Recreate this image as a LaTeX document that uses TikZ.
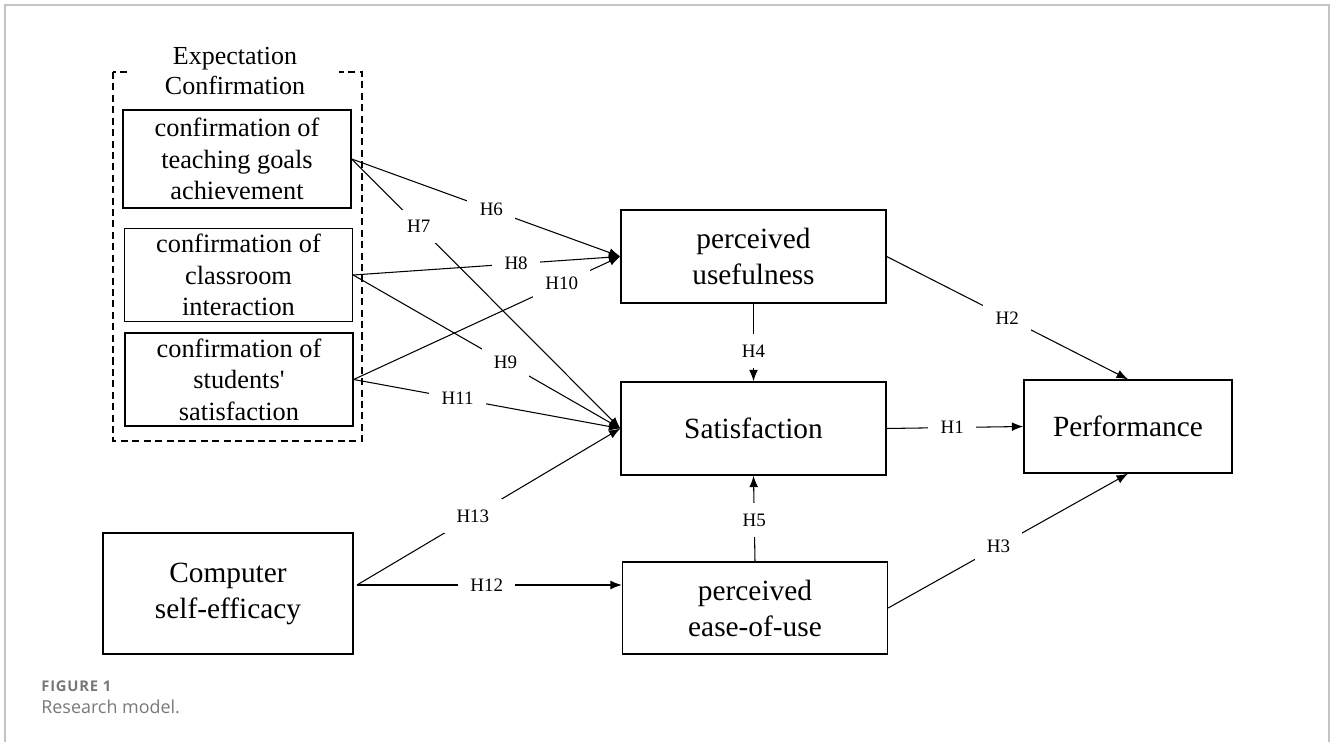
\documentclass[tikz,border=0pt]{standalone}
\usepackage{fontspec}
\setmainfont{Liberation Serif}
\newfontfamily\capfont{Open Sans}
\newfontfamily\capfontwide[LetterSpace=5.5]{Open Sans}
\usetikzlibrary{arrows.meta}

\definecolor{framegrey}{HTML}{C4C4C4}
\definecolor{capgrey}{HTML}{787878}

\tikzset{
	box/.style={draw, line width=0.8pt, align=center, inner sep=0pt, font=\fontsize{16.7}{20.5}\selectfont},
	confbox/.style={draw, line width=0.8pt, align=center, inner sep=0pt, minimum width=4.56cm, minimum height=1.86cm, font=\fontsize{15}{18}\selectfont},
	link/.style={line width=0.6pt, -{Latex[length=6.5pt,width=5pt]}},
	hlab/.style={fill=white, inner xsep=7pt, inner ysep=6pt, font=\fontsize{10.8}{12}\selectfont},
}

\begin{document}
\begin{tikzpicture}[x=0.02cm, y=-0.02cm]
	\useasboundingbox (0,0) rectangle (1330,742);

	%frame
	\draw[framegrey, line width=0.8pt] (5,742) -- (5,5) -- (1329,5) -- (1329,742);

	%expectation confirmation group
	\draw[line width=0.6pt, dash pattern=on 4pt off 2.5pt] (113,72) rectangle (362,441);
	\node[fill=white, align=center, minimum width=4.16cm, font=\fontsize{14.8}{17}\selectfont] (ectitle) at (235,71) {Expectation\\Confirmation};

	\node[confbox, minimum height=1.96cm] (goals) at (237,159) {confirmation of\\teaching goals\\achievement};
	\node[confbox] (inter) at (238.5,275) {confirmation of\\classroom\\interaction};
	\node[confbox] (stud) at (239,379.5) {confirmation of\\students\textquotesingle\\satisfaction};

	%constructs
	\node[box, minimum width=5.3cm, minimum height=1.86cm] (pu) at (753.5,256.5) {perceived\\usefulness};
	\node[box, minimum width=5.3cm, minimum height=1.86cm] (sat) at (753.5,428.5) {Satisfaction};
	\node[box, minimum width=5.3cm, minimum height=1.84cm] (peou) at (755,608) {perceived\\ease-of-use};
	\node[box, minimum width=4.16cm, minimum height=1.86cm] (perf) at (1128,426.5) {Performance};
	\node[box, minimum width=5cm, minimum height=2.42cm] (cse) at (228,593.5) {Computer\\self-efficacy};
	\coordinate (cseout) at (357,585);

	%hypotheses
	\draw[link] (goals.east) -- (pu.west) node[hlab, pos=0.52] (h6) {H6};
	\draw[link] (goals.east) -- (sat.west) node[hlab, pos=0.25] (h7) {H7};
	\draw[link] (inter.east) -- (pu.west) node[hlab, pos=0.61] (h8) {H8};
	\draw[link] (inter.east) -- (sat.west) node[hlab, pos=0.57] (h9) {H9};
	\draw[link] (stud.east) -- (pu.west) node[hlab, pos=0.78] (h10) {H10};
	\draw[link] (stud.east) -- (sat.west) node[hlab, pos=0.39] (h11) {H11};
	\draw[link] (cseout) -- (cseout -| peou.west) node[hlab, pos=0.49] (h12) {H12};
	\draw[link] (cseout) -- (sat.west) node[hlab, pos=0.44] (h13) {H13};

	\draw[link] (pu.south) -- (sat.north) node[hlab, pos=0.61] (h4) {H4};
	\draw[link] (peou.north) -- (sat.south) node[hlab, pos=0.48] (h5) {H5};
	\draw[link] (sat.east) -- (perf.west) node[hlab, pos=0.48] (h1) {H1};
	\draw[link] (pu.east) -- (perf.north) node[hlab, pos=0.5] (h2) {H2};
	\draw[link] (peou.east) -- (perf.south) node[hlab, pos=0.46] (h3) {H3};

	%caption
	\node[anchor=base west, inner sep=0pt, text=capgrey, font=\capfontwide\bfseries\fontsize{8.4}{10}\selectfont] (figlabel) at (41,692) {FIGURE 1};
	\node[anchor=base west, inner sep=0pt, text=capgrey, font=\capfont\fontsize{10.2}{12}\selectfont] (figtitle) at (41,714) {Research model.};
\end{tikzpicture}
\end{document}
